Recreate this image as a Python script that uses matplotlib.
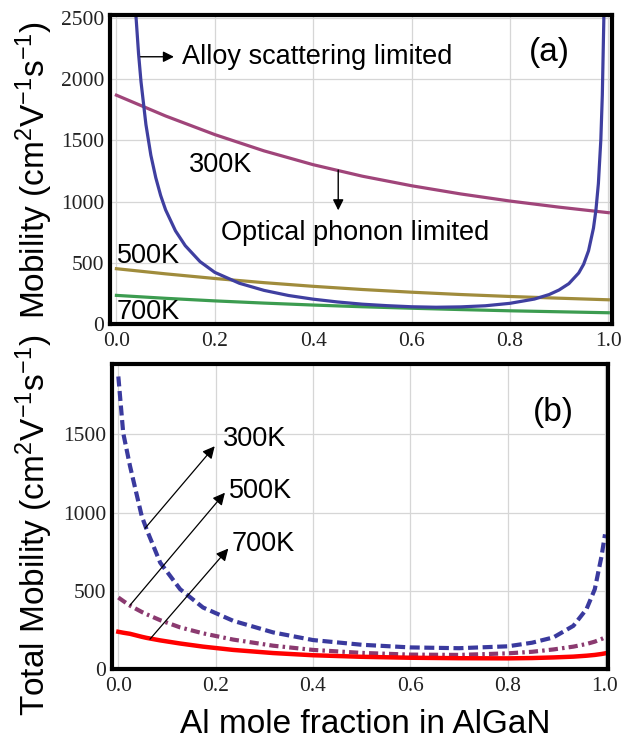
import matplotlib
matplotlib.use("Agg")
import matplotlib.pyplot as plt

plt.rcParams['font.family'] = ['Liberation Sans', 'DejaVu Sans']
plt.rcParams['mathtext.fontset'] = 'custom'
plt.rcParams['mathtext.rm'] = 'Liberation Sans'
plt.rcParams['mathtext.it'] = 'Liberation Sans:italic'
plt.rcParams['mathtext.bf'] = 'Liberation Sans:bold'

# (a) optical phonon limited mobility vs Al fraction
x_phonon = [0.0, 0.1, 0.2, 0.3, 0.4, 0.5, 0.6, 0.7, 0.8, 0.9, 1.0]
mu_300 = [1870, 1700, 1548, 1415, 1302, 1208, 1130, 1063, 1005, 955, 910]
mu_500 = [452, 410, 372, 338, 308, 282, 260, 241, 225, 211, 198]
mu_700 = [234, 210, 189, 171, 155, 141, 129, 118, 108, 100, 92]

# (a) alloy scattering limited mobility
x_alloy = [0.036, 0.039, 0.045, 0.05, 0.06, 0.07, 0.08, 0.09, 0.1, 0.12,
           0.14, 0.17, 0.2, 0.25, 0.3, 0.35, 0.4, 0.45, 0.5, 0.55,
           0.6, 0.65, 0.7, 0.75, 0.8, 0.85, 0.88, 0.9, 0.92, 0.94,
           0.95, 0.96, 0.97, 0.975, 0.98, 0.985, 0.988, 0.991, 0.993]
mu_alloy = [2780, 2560, 2210, 1980, 1630, 1380, 1196, 1050, 933, 762,
            640, 510, 422, 333, 275, 233, 203, 180, 162, 150,
            141, 137, 140, 149, 169, 204, 241, 278, 330, 417,
            488, 599, 784, 931, 1148, 1509, 1872, 2478, 3165]

# (b) total mobility
x_total = [0.0, 0.01, 0.024, 0.048, 0.058, 0.086, 0.127, 0.174, 0.236, 0.318, 0.4,
           0.5, 0.6, 0.7, 0.8, 0.85, 0.894, 0.935, 0.962, 0.979, 0.993, 1.0]
tot_300 = [1870, 1509, 1297, 978, 893, 680, 510, 393, 308, 234, 185,
           155, 138, 133, 145, 168, 202, 276, 383, 510, 723, 861]
tot_500 = [457, 435, 405, 365, 350, 312, 266, 228, 188, 149, 122,
           103, 92, 90, 100, 110, 125, 143, 160, 175, 192, 202]
tot_700 = [238, 232, 225, 206, 199, 183, 163, 143, 122, 102, 88,
           78, 72, 69, 68, 70, 74, 79, 85, 90, 96, 100]

xticks = [0.0, 0.2, 0.4, 0.6, 0.8, 1.0]
ylabel_unit = r'(cm$^{2}$V$^{-1}$s$^{-1}$)'

fig = plt.figure(figsize=(6.23, 7.44), dpi=100)
ax1 = fig.add_axes([0.1766, 0.5645, 0.806, 0.4153])
ax2 = fig.add_axes([0.1798, 0.1008, 0.796, 0.41])

for ax in (ax1, ax2):
    ax.set_axisbelow(True)
    ax.grid(color='#d6d6d6', lw=0.9)
    for s in ax.spines.values():
        s.set_linewidth(3)
        s.set_color('black')
    ax.tick_params(length=0, pad=4, labelsize=15.5, labelcolor='#222222')
    ax.set_xticks(xticks)
    ax.set_xticklabels(['%.1f' % t for t in xticks])
    for lab in ax.get_xticklabels() + ax.get_yticklabels():
        lab.set_fontfamily('Liberation Serif')
    ax.tick_params(axis='x', pad=6)

# panel (a)
ax1.plot(x_phonon, mu_300, color='#a0457a', lw=2.3)
ax1.plot(x_phonon, mu_500, color='#a08c3c', lw=2.3)
ax1.plot(x_phonon, mu_700, color='#3c9c50', lw=2.3)
ax1.plot(x_alloy, mu_alloy, color='#3f3fa0', lw=2.3)
ax1.set_xlim(-0.013, 1.008)
ax1.set_ylim(0, 2525)
ax1.set_yticks([0, 500, 1000, 1500, 2000, 2500])
for lab in ax1.get_yticklabels():
    lab.set_fontfamily('Liberation Serif')
ax1.set_ylabel('Mobility ' + ylabel_unit, fontsize=24)
ax1.yaxis.set_label_coords(-0.11, 0.5)

ax1.annotate('', xy=(0.117, 2184), xytext=(0.049, 2184),
             arrowprops=dict(arrowstyle='-|>', color='k', lw=1, mutation_scale=16,
                             shrinkA=0, shrinkB=0))
ax1.text(0.133, 2184, 'Alloy scattering limited', fontsize=19.5, va='center', ha='left')
ax1.text(0.881, 2215, '(a)', fontsize=24, va='center', ha='center')
ax1.text(0.148, 1299, '300K', fontsize=19.5, va='center', ha='left')
ax1.annotate('', xy=(0.451, 929), xytext=(0.451, 1258),
             arrowprops=dict(arrowstyle='-|>', color='k', lw=1, mutation_scale=16,
                             shrinkA=0, shrinkB=0))
ax1.text(0.212, 742, 'Optical phonon limited', fontsize=19.5, va='center', ha='left')
ax1.text(0.001, 553, '500K', fontsize=19.5, va='center', ha='left')
ax1.text(0.0, 97, '700K', fontsize=19.5, va='center', ha='left')

# panel (b)
ax2.plot(x_total, tot_300, color='#3a3a9e', lw=3, ls=(0, (2.4, 1.1)))
ax2.plot(x_total, tot_500, color='#8b3a70', lw=3, ls=(0, (2.2, 1.0, 0.6, 1.0)))
ax2.plot(x_total, tot_700, color='#ff0000', lw=3.2)
ax2.set_xlim(-0.013, 1.006)
ax2.set_ylim(0, 1950)
ax2.set_yticks([0, 500, 1000, 1500])
for lab in ax2.get_yticklabels():
    lab.set_fontfamily('Liberation Serif')
ax2.set_ylabel('Total Mobility ' + ylabel_unit, fontsize=24)
ax2.yaxis.set_label_coords(-0.115, 0.47)
ax2.set_xlabel('Al mole fraction in AlGaN', fontsize=24)
ax2.xaxis.set_label_coords(0.51, -0.13)

arrow_b = dict(arrowstyle='-|>', color='k', lw=0.9, mutation_scale=18, shrinkA=0, shrinkB=0)
ax2.annotate('', xy=(0.198, 1424), xytext=(0.055, 900), arrowprops=arrow_b)
ax2.annotate('', xy=(0.219, 1127), xytext=(0.024, 408), arrowprops=arrow_b)
ax2.annotate('', xy=(0.226, 770), xytext=(0.065, 191), arrowprops=arrow_b)
ax2.text(0.2155, 1471, '300K', fontsize=19.5, va='center', ha='left')
ax2.text(0.227, 1137, '500K', fontsize=19.5, va='center', ha='left')
ax2.text(0.233, 797, '700K', fontsize=19.5, va='center', ha='left')
ax2.text(0.893, 1639, '(b)', fontsize=24, va='center', ha='center')

fig.savefig('out.png', dpi=100)
